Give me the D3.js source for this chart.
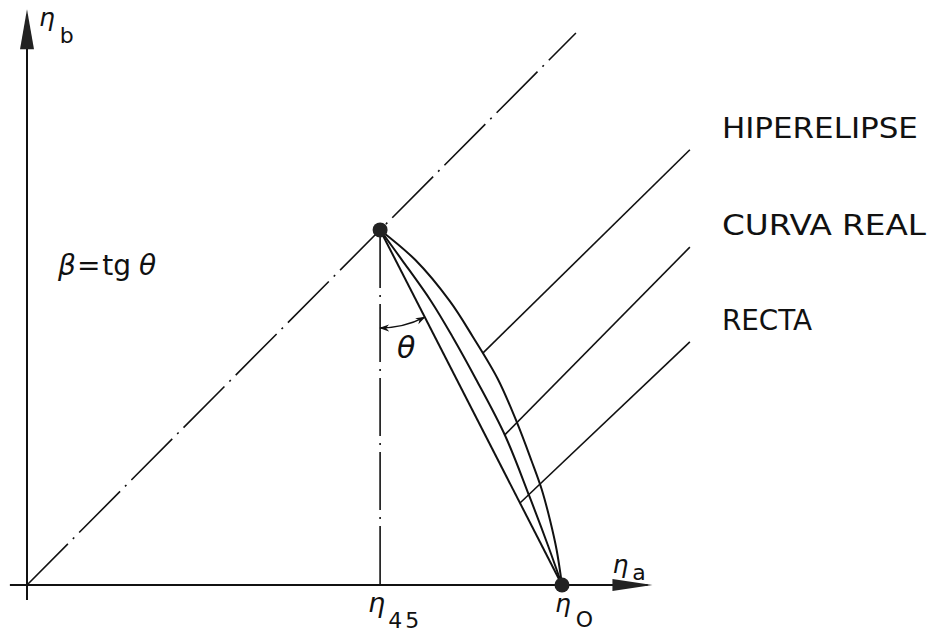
<!DOCTYPE html>
<html>
<head>
<meta charset="utf-8">
<script src="https://cdn.jsdelivr.net/npm/d3@7"></script>
<style>
  body { margin: 0; background: #fff; }
  svg { display: block; }
  .lbl { font-family: "Liberation Sans Narrow", "DejaVu Sans Condensed", sans-serif; fill: #111; }
  .sym { font-family: "DejaVu Sans", sans-serif; fill: #111; }
</style>
</head>
<body>
<svg id="chart"></svg>
<script>
// values in eta units (eta0 = 1)
const eta45 = 0.66;
const eta0 = 1.0;
const diagonalEnd = 1.026;

const recta = [[0.66, 0.66], [1.0, 0.0]];
const curvaReal = [
  [0.66, 0.66], [0.701, 0.604], [0.755, 0.528], [0.795, 0.462], [0.839, 0.383],
  [0.894, 0.277], [0.939, 0.165], [0.974, 0.073], [1.0, 0.0]
];
const hiperelipse = [
  [0.66, 0.66], [0.726, 0.604], [0.790, 0.528], [0.833, 0.462], [0.880, 0.383],
  [0.915, 0.304], [0.943, 0.231], [0.962, 0.178], [0.978, 0.119], [0.990, 0.065], [1.0, 0.0]
];

const curveNames = ['HIPERELIPSE', 'CURVA REAL', 'RECTA'];
const labelWidths = [196, 204, 90];
const labelAt = [[1.299, 0.831], [1.299, 0.651], [1.299, 0.474]];
const leaderFrom = [[1.239, 0.809], [1.239, 0.628], [1.239, 0.452]];
const leaderTo = [[0.852, 0.431], [0.893, 0.279], [0.921, 0.152]];

const W = 929, H = 632;

const svg = d3.select('#chart')
  .attr('width', W)
  .attr('height', H);

svg.append('rect').attr('width', W).attr('height', H).attr('fill', '#fff');

const x = d3.scaleLinear().domain([0, 1]).range([27, 562]);
const y = d3.scaleLinear().domain([0, 1]).range([585, 47]);

// small arrowhead for the angle arc
svg.append('defs').append('marker')
  .attr('id', 'tip')
  .attr('viewBox', '0 -4 10 8')
  .attr('refX', 9)
  .attr('refY', 0)
  .attr('markerWidth', 10)
  .attr('markerHeight', 8)
  .attr('markerUnits', 'userSpaceOnUse')
  .attr('orient', 'auto-start-reverse')
  .append('path')
  .attr('d', 'M0,-3.5 L10,0 L0,3.5 L3,0 Z')
  .attr('fill', '#111');

// axes
svg.append('line')
  .attr('x1', x(-0.032)).attr('y1', y(0))
  .attr('x2', x(1.16)).attr('y2', y(0))
  .attr('stroke', '#111').attr('stroke-width', 2);
svg.append('line')
  .attr('x1', x(0)).attr('y1', y(-0.028))
  .attr('x2', x(0)).attr('y2', y(1.06))
  .attr('stroke', '#111').attr('stroke-width', 2);

// axis arrow heads
svg.append('path')
  .attr('d', `M${x(0)},${y(1.07)} L${x(0) - 7},${y(1.07) + 40} L${x(0) + 7},${y(1.07) + 40} Z`)
  .attr('fill', '#222');
svg.append('path')
  .attr('d', `M${x(1.169)},${y(0)} L${x(1.169) - 40},${y(0) - 6} L${x(1.169) - 40},${y(0) + 6} Z`)
  .attr('fill', '#222');

// dash-dot guides
const dash = '58,7,2,7';
svg.append('line')
  .attr('x1', x(0)).attr('y1', y(0))
  .attr('x2', x(diagonalEnd)).attr('y2', y(diagonalEnd))
  .attr('stroke', '#111').attr('stroke-width', 1.6)
  .attr('stroke-dasharray', dash);
svg.append('line')
  .attr('x1', x(eta45)).attr('y1', y(eta45))
  .attr('x2', x(eta45)).attr('y2', y(0))
  .attr('stroke', '#111').attr('stroke-width', 1.6)
  .attr('stroke-dasharray', dash);

// the three curves
const line = d3.line()
  .x(d => x(d[0]))
  .y(d => y(d[1]))
  .curve(d3.curveCatmullRom.alpha(0.5));

[recta, curvaReal, hiperelipse].forEach(c => {
  svg.append('path')
    .datum(c)
    .attr('d', line)
    .attr('fill', 'none')
    .attr('stroke', '#111')
    .attr('stroke-width', 2);
});

// leaders and labels
curveNames.forEach((name, i) => {
  svg.append('line')
    .attr('x1', x(leaderFrom[i][0])).attr('y1', y(leaderFrom[i][1]))
    .attr('x2', x(leaderTo[i][0])).attr('y2', y(leaderTo[i][1]))
    .attr('stroke', '#111').attr('stroke-width', 1.6);
  svg.append('text')
    .attr('class', 'lbl')
    .attr('x', x(labelAt[i][0]))
    .attr('y', y(labelAt[i][1]))
    .attr('font-size', 28)
    .attr('textLength', labelWidths[i])
    .attr('lengthAdjust', 'spacingAndGlyphs')
    .text(name);
});

// points
[[eta45, eta45], [eta0, 0]].forEach(p => {
  svg.append('circle')
    .attr('cx', x(p[0])).attr('cy', y(p[1]))
    .attr('r', 7.5)
    .attr('fill', '#222');
});

// angle theta
const cx = x(eta45), cy = y(eta45);
const theta = Math.atan2(x(eta0) - cx, y(0) - cy);
const r = 98;
const p = d3.path();
p.moveTo(cx, cy + r);
p.arc(cx, cy, r, Math.PI / 2, Math.PI / 2 - theta, true);
svg.append('path')
  .attr('d', p.toString())
  .attr('fill', 'none')
  .attr('stroke', '#111')
  .attr('stroke-width', 1.6)
  .attr('marker-start', 'url(#tip)')
  .attr('marker-end', 'url(#tip)');

svg.append('text')
  .attr('class', 'sym')
  .attr('x', cx + 17).attr('y', cy + 128)
  .attr('font-size', 30)
  .attr('font-style', 'italic')
  .text('θ');

// beta = tg theta
const beta = svg.append('text')
  .attr('class', 'sym')
  .attr('x', 58).attr('y', 275)
  .attr('font-size', 28);
beta.append('tspan').attr('font-style', 'italic').text('β');
beta.append('tspan').attr('dx', 1).text('=');
beta.append('tspan').attr('dx', 2).text('tg');
beta.append('tspan').attr('font-style', 'italic').attr('dx', 8).text('θ');

// axis names and eta marks
function eta(xp, yp, sub, subDx, subDy, size, subSize, spacing) {
  const t = svg.append('text')
    .attr('class', 'sym')
    .attr('x', xp).attr('y', yp)
    .attr('font-size', size);
  t.append('tspan').attr('font-style', 'italic').text('η');
  t.append('tspan')
    .attr('dx', subDx).attr('dy', subDy)
    .attr('font-size', subSize)
    .attr('letter-spacing', spacing)
    .text(sub);
}

eta(x(0) + 12, y(1.07) + 17, 'b', 5, 17, 25, 22, 0);
eta(x(1.169) - 40, y(0) - 12, 'a', 4, 7, 25, 22, 0);
eta(x(eta45) - 12, y(0) + 27, '45', 3, 16, 27, 22, 3);
eta(x(eta0) - 7, y(0) + 27, 'O', 5, 15, 25, 22, 0);
</script>
</body>
</html>
